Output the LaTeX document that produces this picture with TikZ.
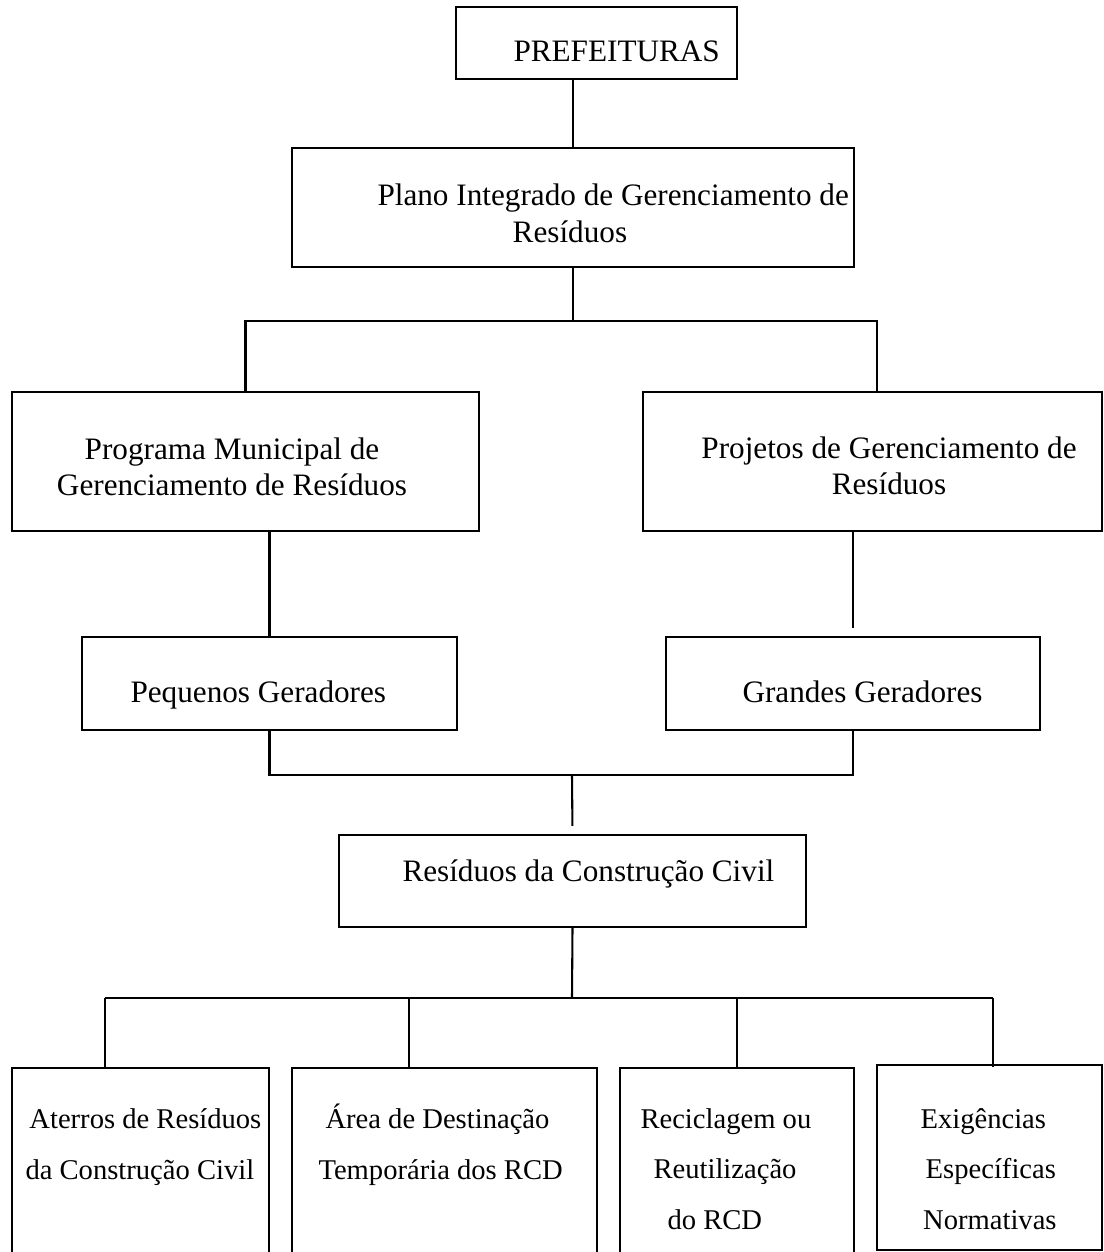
\documentclass[tikz,border=0pt]{standalone}
\usepackage{fontspec}
\setmainfont{Liberation Serif}
\usetikzlibrary{fit}

\tikzset{
  box/.style={draw, line width=0.8pt, inner sep=0pt},
  link/.style={line width=0.8pt},
  txt/.style={inner sep=0pt, font=\fontsize{12}{13.85}\selectfont},
  txtwide/.style={inner sep=0pt, align=left, font=\fontsize{11}{19.4}\selectfont},
}

\begin{document}
\begin{tikzpicture}[x=0.3846pt, y=-0.3846pt]
  \clip (0,0) rectangle (1104,1252);
  \fill[white] (0,0) rectangle (1104,1252);

  % Prefeituras and the integrated plan
  \node[box, fit={(456,7) (737,79)}] (pref) {};
  \node[txt, anchor=base west] (preftxt) at (513,61) {PREFEITURAS};
  \node[box, fit={(292,148) (854,267)}] (plano) {};
  \node[txt, anchor=base west, align=left] (planotxt) at (377,242)
    {Plano Integrado de Gerenciamento de\\\hspace*{52pt}Resíduos};

  % Programa and Projetos
  \node[box, fit={(12,392) (479,531)}] (prog) {};
  \node[txt, anchor=base, align=center] (progtxt) at (232,495)
    {Programa Municipal de\\Gerenciamento de Resíduos};
  \node[box, fit={(643,392) (1102,531)}] (proj) {};
  \node[txt, anchor=base, align=center] (projtxt) at (889,494)
    {Projetos de Gerenciamento de\\Resíduos};

  % Geradores
  \node[box, fit={(82,637) (457,730)}] (peq) {};
  \node[txt, anchor=base west] (peqtxt) at (130,702) {Pequenos Geradores};
  \node[box, fit={(666,637) (1040,730)}] (grand) {};
  \node[txt, anchor=base west] (grandtxt) at (742,702) {Grandes Geradores};

  % Residuos da construcao civil
  \node[box, fit={(339,835) (806,927)}] (resid) {};
  \node[txt, anchor=base west] (residtxt) at (402,881) {Resíduos da Construção Civil};

  % Destinations
  \node[box, fit={(12,1068) (269,1270)}] (aterro) {};
  \node[txtwide, anchor=base west] (aterrotxt) at (25,1179)
    {\hspace*{1.5pt}Aterros de Resíduos\\da Construção Civil};
  \node[box, fit={(292,1068) (597,1270)}] (area) {};
  \node[txtwide, anchor=base west] (areatxt) at (318,1179)
    {\hspace*{2.7pt}Área de Destinação\\Temporária dos RCD};
  \node[box, fit={(620,1068) (854,1270)}] (recicl) {};
  \node[txtwide, anchor=base west] (recicltxt) at (640,1229)
    {Reciclagem ou\\\hspace*{5pt}Reutilização\\\hspace*{10.4pt}do RCD};
  \node[box, fit={(877,1065) (1102,1250)}] (exig) {};
  \node[txtwide, anchor=base west] (exigtxt) at (920,1229)
    {Exigências\\\hspace*{2pt}Específicas\\\hspace*{1pt}Normativas};

  % Connectors
  \draw[link] (plano.north) -- (plano.north |- pref.south);

  \coordinate (busA) at (573,321);
  \coordinate (tapA) at (877,321);
  \draw[link] (plano.south) -- (busA);
  \draw[link] (prog.north) |- (busA) -- (tapA) -- (tapA |- proj.north);

  \draw[link] (peq.north) -- (peq.north |- prog.south);
  \draw[link, shorten <=3.1pt] (grand.north) -- (grand.north |- proj.south);

  \coordinate (busB) at (572,775);
  \draw[link] (peq.south) |- (busB) -| (grand.south);
  \draw[link, shorten >=3.1pt] (busB) -- (resid.north);

  \coordinate (busC) at (572,998);
  \coordinate (tap1) at (105,998);
  \coordinate (tap2) at (409,998);
  \coordinate (tap3) at (737,998);
  \coordinate (tap4) at (993,998);
  \draw[link] (resid.south) -- (busC);
  \draw[link] (tap1) -- (tap4);
  \draw[link] (tap1) -- (tap1 |- aterro.north);
  \draw[link] (tap2) -- (tap2 |- area.north);
  \draw[link] (tap3) -- (tap3 |- recicl.north);
  \draw[link] (tap4) -- (tap4 |- recicl.north);
\end{tikzpicture}
\end{document}
